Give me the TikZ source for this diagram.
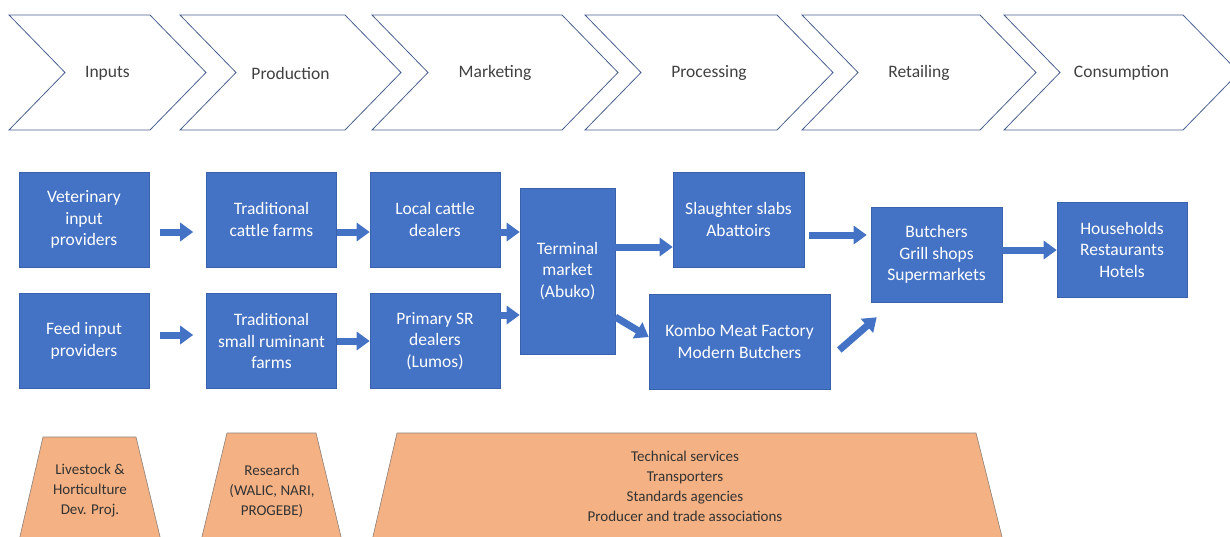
\documentclass[tikz,border=0pt]{standalone}
\usepackage{fontspec}
\setmainfont{Carlito}
\usetikzlibrary{arrows.meta}
\definecolor{boxblue}{HTML}{4472C4}
\definecolor{boxedge}{HTML}{3A62AC}
\definecolor{chevedge}{HTML}{4A6190}
\definecolor{supfill}{HTML}{F4B183}
\definecolor{supedge}{HTML}{8C7F78}
\definecolor{labelgray}{HTML}{404040}

\begin{document}
\begin{tikzpicture}[x=1pt, y=-1pt,
    stage/.style={draw=chevedge, line width=0.8pt, fill=white},
    stagetext/.style={text=labelgray, font=\fontsize{17.5}{20}\selectfont},
    actor/.style={draw=boxedge, line width=0.6pt, fill=boxblue, text=white, align=center,
        font=\fontsize{17.5}{21.5}\selectfont, minimum width=130pt, minimum height=95pt, inner sep=2pt},
    flow/.style={boxblue, line width=7pt, -{Triangle[width=18pt,length=13pt]}},
    support/.style={draw=supedge, line width=0.6pt, fill=supfill},
    supporttext/.style={text=black!80, align=center, font=\fontsize{15}{20}\selectfont}]
    \clip (0,0) rectangle (1230,536);

    \foreach \l/\w/\name/\txt in {9/141/inputs/Inputs, 180/165/production/Production,
        372/190/marketing/Marketing, 585/192/processing/Processing,
        802/178/retailing/Retailing, 1004/179/consumption/Consumption}{
        \draw[stage] (\l,15) -- ++(\w,0) -- ++(56,57.5) -- ++(-56,57.5) -- ++(-\w,0) -- ++(56,-57.5) -- cycle;
        \node[stagetext] (\name) at (\l+\w/2+28,73) {\txt};
    }

    \node[actor] (vet) at (84,219.5) {Veterinary\\input\\providers};
    \node[actor] (feed) at (84,341) {Feed input\\providers};
    \node[actor] (cattlefarm) at (271.5,219.5) {Traditional\\cattle farms};
    \node[actor] (srfarm) at (271.5,341) {Traditional\\small ruminant\\farms};
    \node[actor] (cattledeal) at (435,219.5) {Local cattle\\dealers};
    \node[actor] (srdeal) at (435,341) {Primary SR\\dealers\\(Lumos)};
    \node[actor, minimum width=95pt, minimum height=166pt] (terminal) at (567.5,271) {Terminal\\market\\(Abuko)};
    \node[actor, minimum width=131pt] (slab) at (738.5,219.5) {Slaughter slabs\\Abattoirs};
    \node[actor, minimum width=181pt] (factory) at (739.5,341.5) {Kombo Meat Factory\\Modern Butchers};
    \node[actor, minimum width=131pt] (retail) at (936.5,254.5) {Butchers\\Grill shops\\Supermarkets};
    \node[actor] (consumer) at (1122,249.5) {Households\\Restaurants\\Hotels};

    \draw[flow] ([xshift=11pt,yshift=-12.5pt]vet.east) -- ([xshift=-13pt,yshift=-12.5pt]cattlefarm.west);
    \draw[flow] ([xshift=11pt,yshift=6pt]feed.east) -- ([xshift=-13pt,yshift=6pt]srfarm.west);
    \draw[flow] ([yshift=-12.5pt]cattlefarm.east) -- ([yshift=-12.5pt]cattledeal.west);
    \draw[flow] (srfarm.east) -- (srdeal.west);
    \draw[flow] ([yshift=-12.5pt]cattledeal.east) -- ([yshift=-12.5pt]cattledeal.east -| terminal.west);
    \draw[flow] ([yshift=26pt]srdeal.east) -- ([yshift=26pt]srdeal.east -| terminal.west);
    \draw[flow] ([yshift=-27.5pt]slab.west -| terminal.east) -- ([yshift=-27.5pt]slab.west);
    \draw[flow] ([yshift=-46pt]terminal.east) -- ([yshift=4.5pt]factory.west);
    \draw[flow] ([xshift=5pt,yshift=-15.5pt]slab.east) -- ([xshift=-4pt,yshift=-15.5pt]slab.east -| retail.west);
    \draw[flow] ([xshift=9pt,yshift=-8.5pt]factory.east) -- ([xshift=6pt,yshift=-15pt]retail.south west);
    \draw[flow] ([yshift=4.5pt]retail.east) -- ([yshift=4.5pt]retail.east -| consumer.west);

    \filldraw[support] (43,437) -- (136,437) -- (162,545) -- (18,545) -- cycle;
    \node[supporttext] (devproj) at (90,491) {Livestock \&\\Horticulture\\Dev. Proj.};
    \filldraw[support] (227,433) -- (316,433) -- (343,545) -- (200,545) -- cycle;
    \node[supporttext] (research) at (272,491.5) {Research\\(WALIC, NARI,\\PROGEBE)};
    \filldraw[support] (397,433) -- (976,433) -- (1004,545) -- (371,545) -- cycle;
    \node[supporttext] (services) at (685,486.5) {Technical services\\Transporters\\Standards agencies\\Producer and trade associations};
\end{tikzpicture}
\end{document}
